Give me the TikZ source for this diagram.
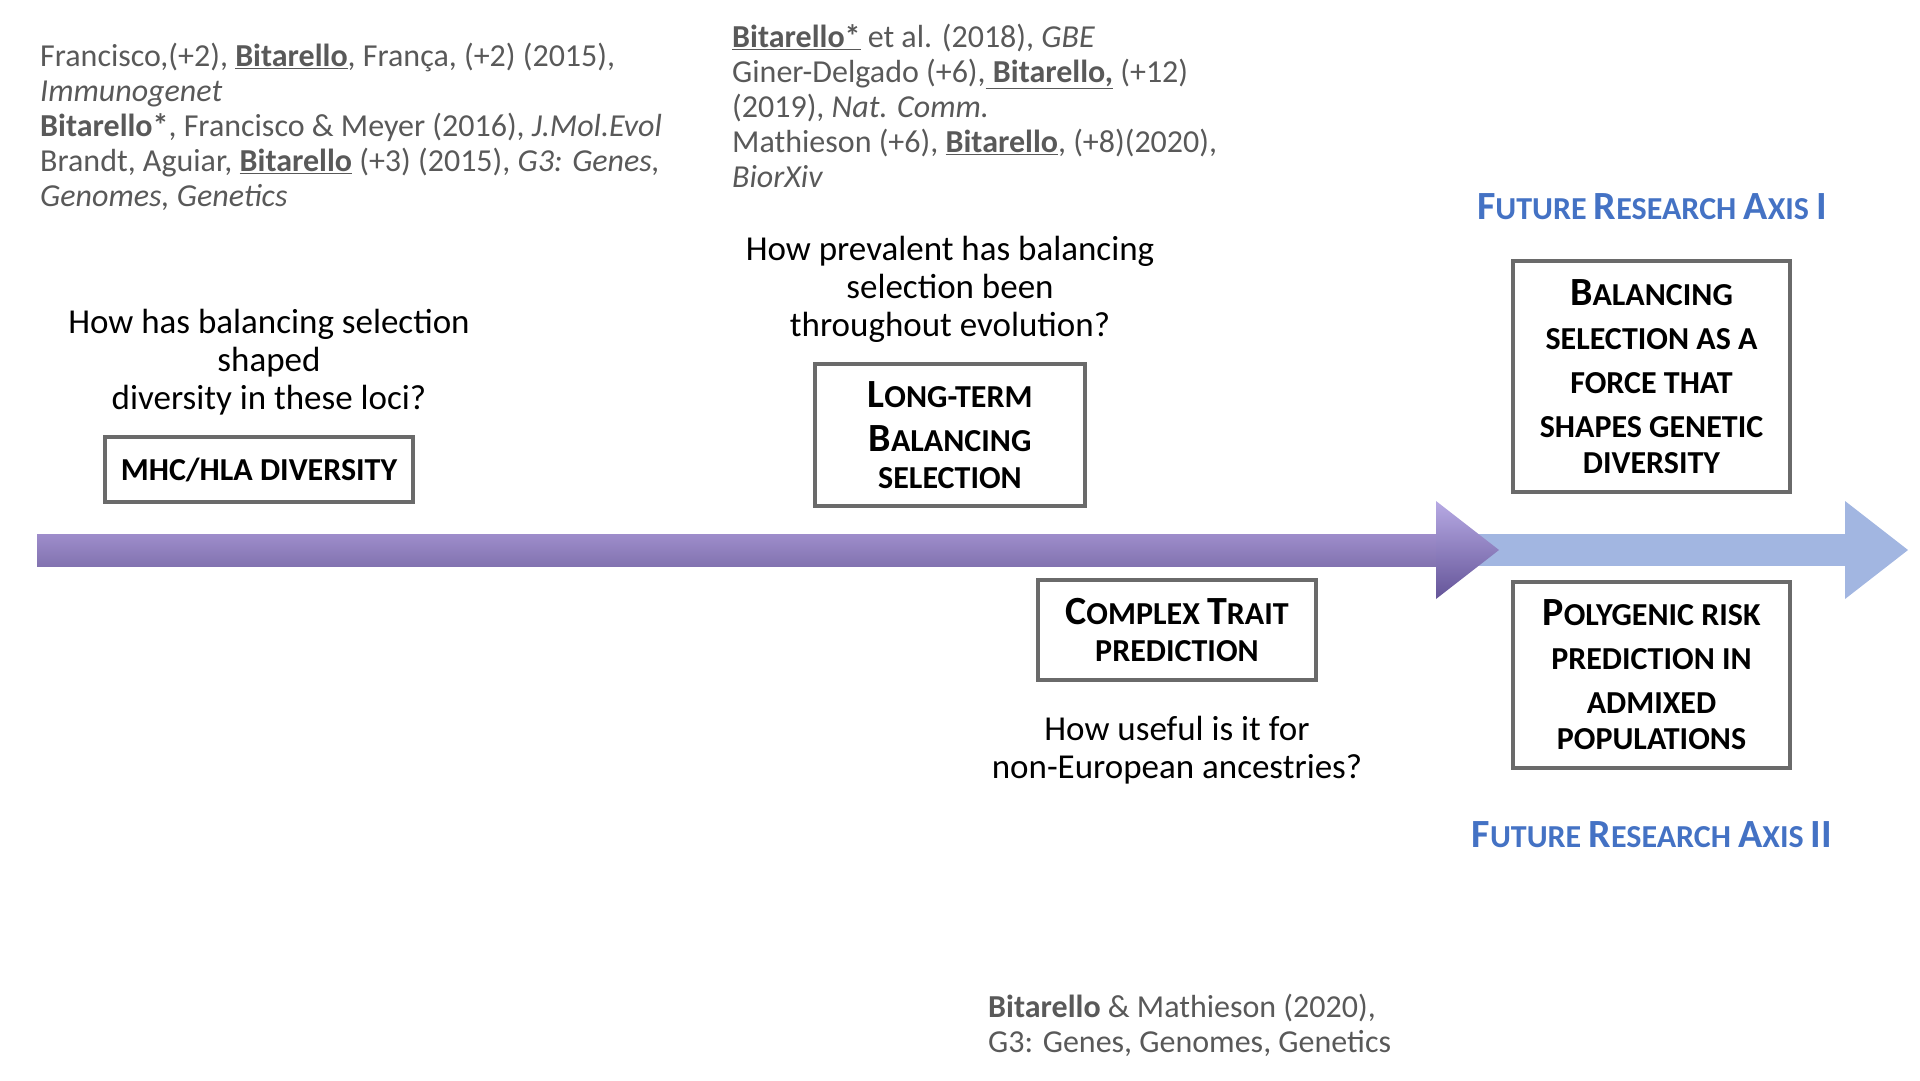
\documentclass[tikz,border=0pt]{standalone}
\usepackage{fontspec}
\setmainfont{Carlito}
\definecolor{reftext}{HTML}{595959}
\definecolor{axisblue}{HTML}{4472C4}
\definecolor{boxline}{HTML}{6A6A6A}
\definecolor{blueArrow}{HTML}{A2B6E1}
\newcommand\Bg[1]{{\fontsize{40}{44}\selectfont #1}}
\begin{document}
\begin{tikzpicture}[x=1pt,y=-1pt,
  reftxt/.style={inner sep=0pt,align=left,text=reftext,font=\fontsize{32}{35}\selectfont},
  question/.style={inner sep=0pt,align=center,text=black,font=\fontsize{35}{38}\selectfont},
  topicbox/.style={draw=boxline,line width=3.2pt,inner sep=0pt,align=center,text=black,
     font=\fontsize{32}{44}\selectfont\bfseries},
  axislabel/.style={inner sep=0pt,text=axisblue,font=\fontsize{32}{38}\selectfont\bfseries}]
\useasboundingbox (0,0) rectangle (1920,1080);
% timeline arrows
\coordinate (pstart) at (37,550);
\coordinate (ptip) at (1499,550);
\coordinate (btip) at (1908,550);
\fill[blueArrow] (1436,534) rectangle (1845,566);
\fill[blueArrow] (1845,501) -- (btip) -- (1845,599) -- cycle;
\shade[top color={rgb,255:red,158;green,141;blue,203},bottom color={rgb,255:red,130;green,115;blue,176}]
  (37,534) rectangle (1440,566);
\shade[top color={rgb,255:red,183;green,170;blue,228},bottom color={rgb,255:red,100;green,84;blue,152}]
  (1436,501) -- (ptip) -- (1436,599) -- cycle;
% references
\node[reftxt,anchor=north west] (ref1) at (40,43)
 {Francisco,(+2), \underline{\textbf{Bitarello}}, França, (+2) (2015),\\
  \textit{Immunogenet}\\
  \textbf{Bitarello*}, Francisco \& Meyer (2016), \textit{J.Mol.Evol}\\
  Brandt, Aguiar, \underline{\textbf{Bitarello}} (+3) (2015), \textit{G3: Genes,}\\
  \textit{Genomes, Genetics}};
\node[reftxt,anchor=north west] (ref2) at (732,24)
 {\underline{\textbf{Bitarello*}} et al. (2018), \textit{GBE}\\
  Giner-Delgado (+6),\underline{\textbf{ Bitarello,}} (+12)\\
  (2019), \textit{Nat. Comm.}\\
  Mathieson (+6), \underline{\textbf{Bitarello}}, (+8)(2020),\\
  \textit{BiorXiv}};
\node[reftxt,anchor=north west] (ref3) at (988,994)
 {\textbf{Bitarello} \& Mathieson (2020),\\
  G3: Genes, Genomes, Genetics};
% questions
\node[question,anchor=north] (q1) at (269,309)
 {How has balancing selection\\ shaped\\ diversity in these loci?};
\node[question,anchor=north] (q2) at (950,236)
 {How prevalent has balancing\\ selection been\\ throughout evolution?};
\node[question,anchor=north] (q3) at (1177,716)
 {How useful is it for\\ non-European ancestries?};
% topic boxes
\node[topicbox,minimum width=308pt,minimum height=65pt] (mhc) at (259,469.5)
 {MHC/HLA DIVERSITY};
\node[topicbox,minimum width=270pt,minimum height=142pt] (ltbs) at (950,435)
 {\Bg{L}ONG-TERM\\ \Bg{B}ALANCING\\[-7pt] SELECTION};
\node[topicbox,minimum width=278pt,minimum height=100pt] (ctp) at (1177,630)
 {\Bg{C}OMPLEX \Bg{T}RAIT\\[-7pt] PREDICTION};
\node[topicbox,minimum width=277pt,minimum height=231pt] (bsf) at (1651.5,376.5)
 {\Bg{B}ALANCING\\ SELECTION AS A\\ FORCE THAT\\ SHAPES GENETIC\\[-8pt] DIVERSITY};
\node[topicbox,minimum width=277pt,minimum height=186pt] (prp) at (1651.5,675)
 {\Bg{P}OLYGENIC RISK\\ PREDICTION IN\\ ADMIXED\\[-8pt] POPULATIONS};
% axis labels
\node[axislabel] (ax1) at (1652,207) {\Bg{F}UTURE \Bg{R}ESEARCH \Bg{A}XIS \Bg{I}};
\node[axislabel] (ax2) at (1652,835) {\Bg{F}UTURE \Bg{R}ESEARCH \Bg{A}XIS \Bg{II}};
\end{tikzpicture}
\end{document}
